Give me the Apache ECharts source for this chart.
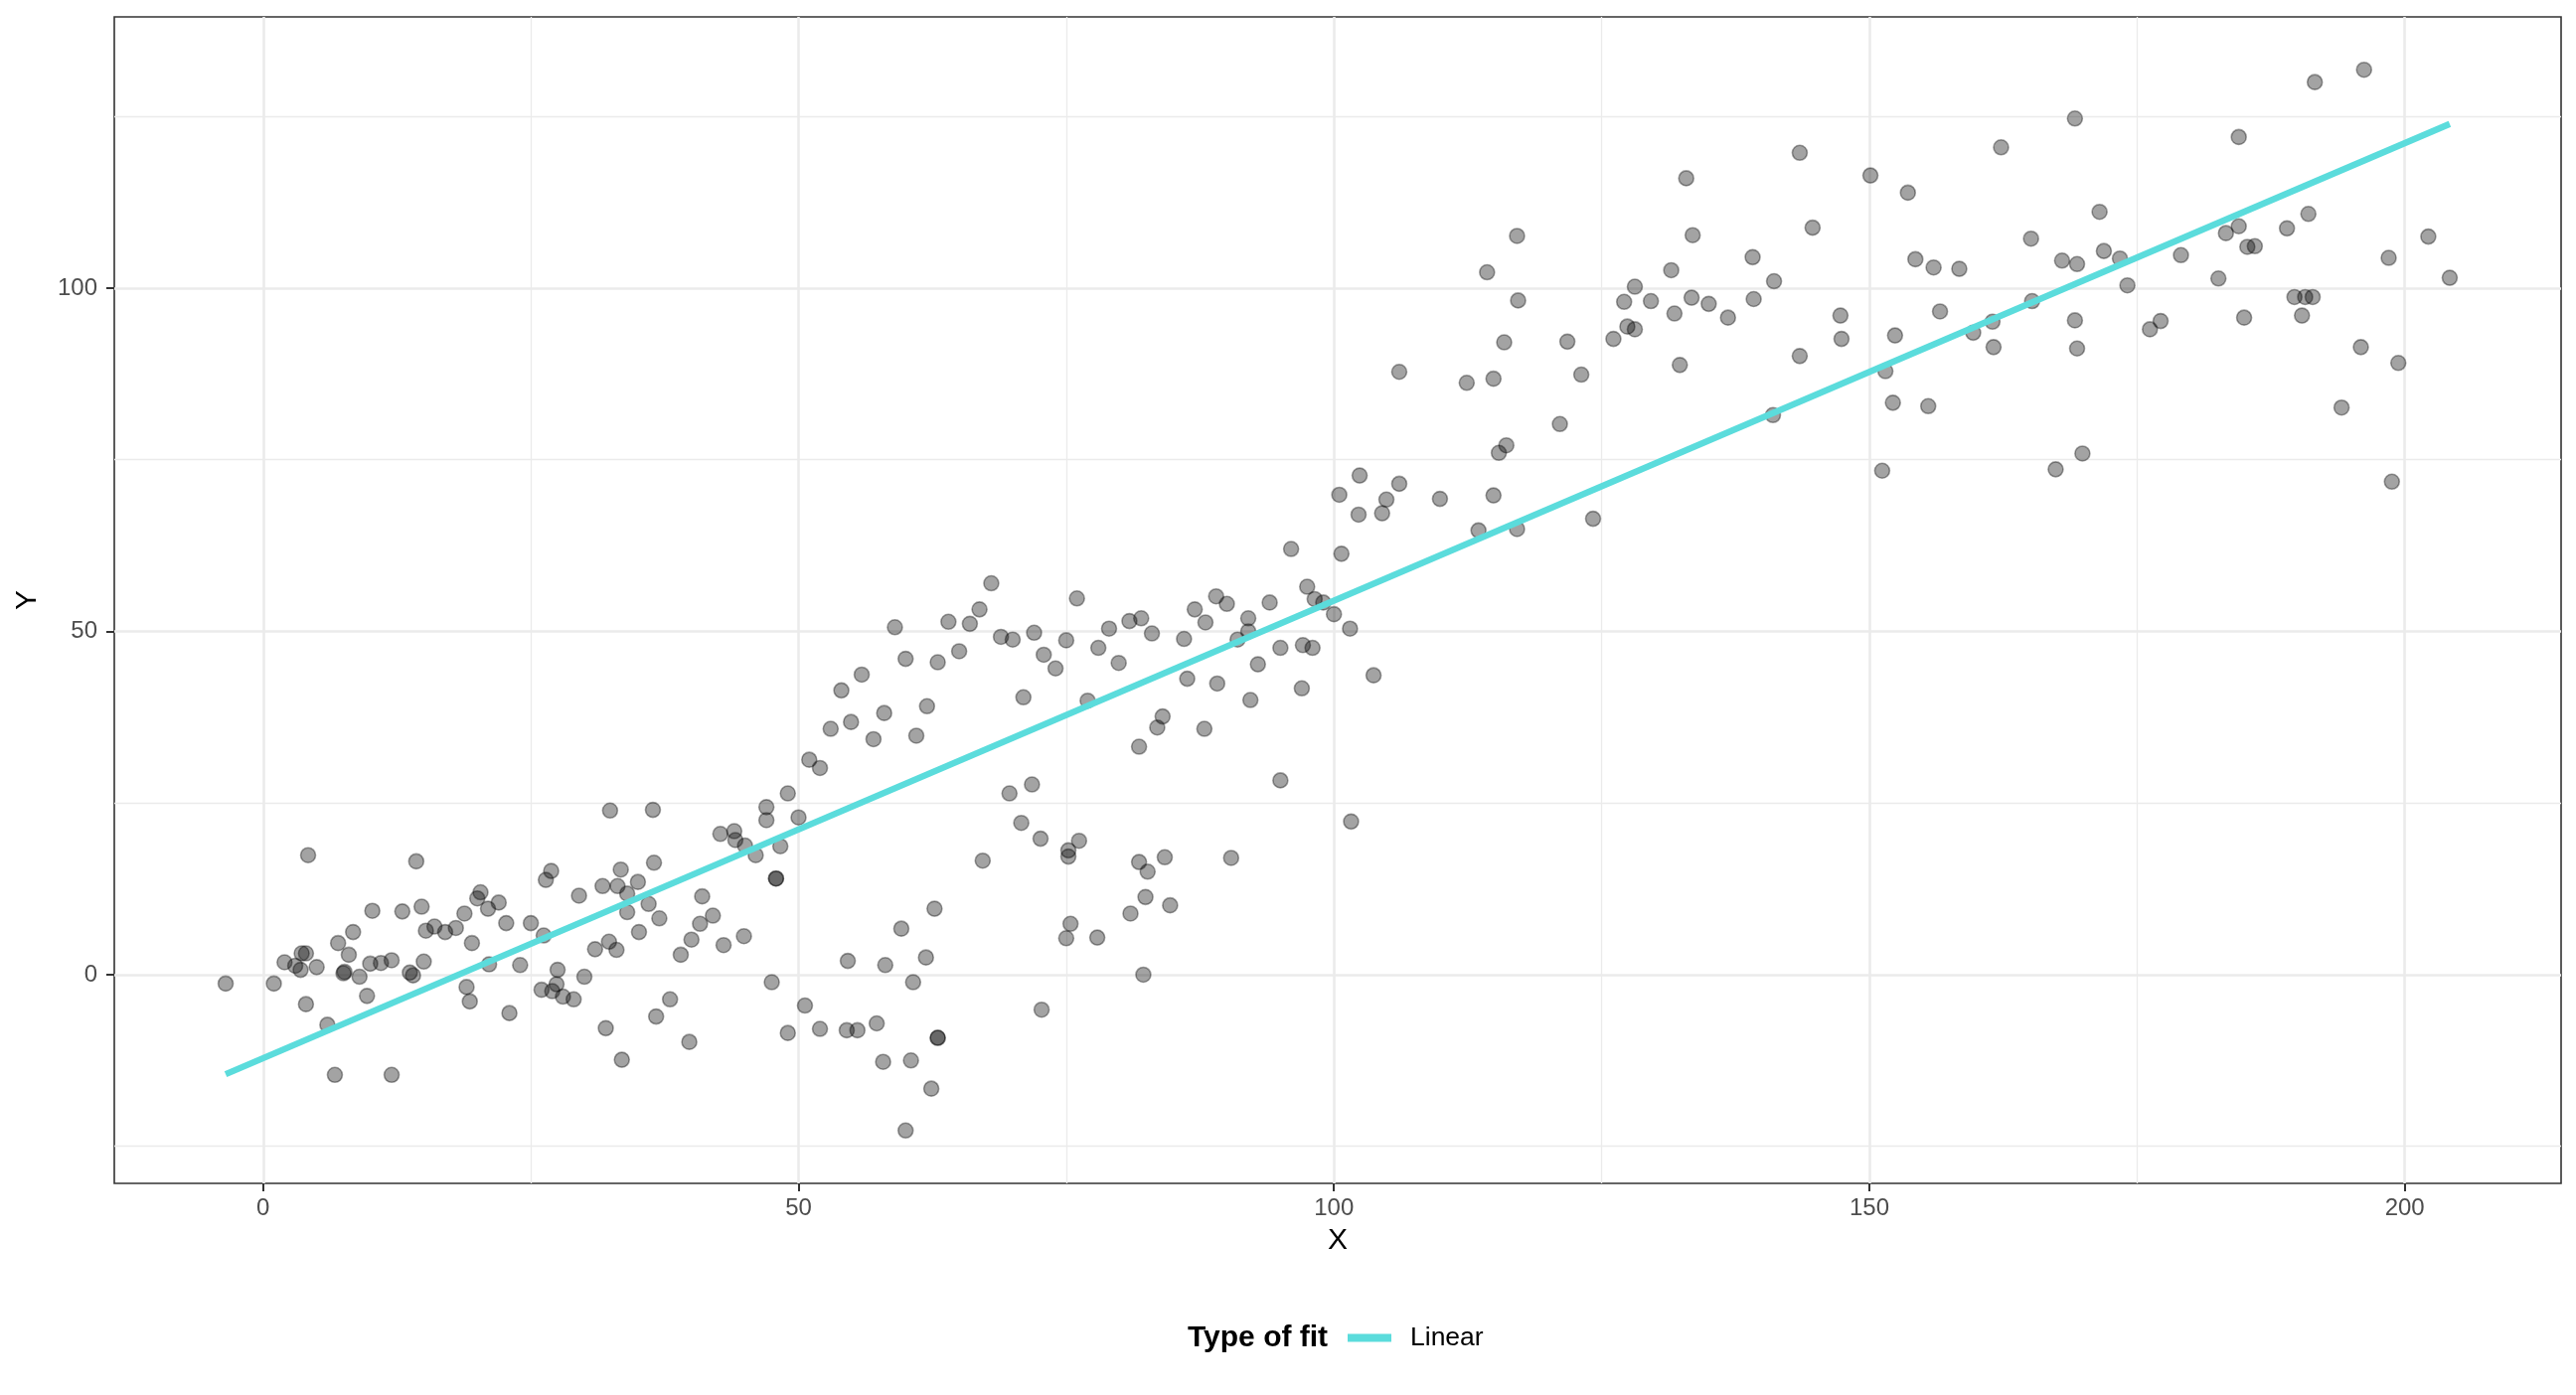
<!DOCTYPE html>
<html>
<head>
<meta charset="utf-8">
<script src="https://cdn.jsdelivr.net/npm/echarts@6/dist/echarts.min.js"></script>
<style>
  html, body { margin: 0; padding: 0; background: #fff; }
  #main { width: 2592px; height: 1404px; }
</style>
</head>
<body>

<div id="main"></div>

<script type="text/javascript">
    // scatter values
    var pointX = [
        -3.5, 1.0, 4.2, 2.0, 3.0, 3.5, 3.6, 4.0, 5.0, 4.0, 6.0, 6.7, 7.0, 8.0, 8.4, 7.5, 7.6, 9.0, 9.7, 10.2,
        10.0, 11.0, 12.0, 12.0, 13.0, 14.3, 14.8, 13.7, 14.0, 15.0, 15.2, 16.0, 17.0, 18.0, 18.8, 19.5, 19.0, 19.3, 20.0, 20.3,
        21.0, 22.0, 21.1, 22.7, 23.0, 24.0, 25.0, 26.2, 26.4, 26.9, 26.0, 27.0, 27.4, 27.5, 28.0, 29.0, 30.0, 29.5, 31.0, 31.7,
        32.4, 32.3, 33.0, 33.1, 33.4, 34.0, 34.0, 32.0, 33.5, 35.0, 35.1, 36.0, 36.4, 36.5, 37.0, 36.7, 38.0, 39.0, 39.8, 40.0,
        40.8, 41.0, 42.0, 43.0, 42.7, 44.0, 44.1, 45.0, 44.9,
        46.0, 47.0, 47.0, 49.0, 50.0, 48.3, 47.9, 47.9, 47.5, 50.6, 49.0, 51.0, 52.0, 52.0, 53.0, 54.0, 54.9, 55.9, 57.0, 58.0,
        59.0, 60.0, 61.0, 62.0, 63.0, 64.0, 65.0, 66.0, 66.9, 68.0, 68.9, 70.0, 54.6, 54.5, 55.5, 57.3, 57.9, 58.1, 59.6, 60.7,
        60.5, 60.0, 61.9, 62.7, 63.0, 63.0, 62.4, 67.2, 69.7, 70.8, 71.8, 71.0, 72.0, 72.6, 72.9, 74.0, 72.7, 75.0, 76.0, 75.2,
        75.2, 76.2, 75.4, 75.0, 77.0, 78.0, 77.9, 79.0, 79.9, 80.9, 82.0, 83.0, 81.8, 83.5, 84.0, 81.8, 82.6, 84.2, 82.4, 81.0,
        84.7, 82.2, 86.0, 87.0, 86.3, 88.0, 89.0, 90.0, 89.1, 87.9, 91.0, 92.0, 92.0, 92.9, 92.2, 90.4, 94.0, 95.0, 95.0,
        96.0, 97.0, 97.1, 98.0, 97.5, 98.2, 99.0, 100.0, 101.5, 103.7, 101.6, 100.7, 100.5, 102.4, 102.3, 104.5, 104.9, 106.1, 106.1, 109.9,
        113.5, 112.4, 114.3, 114.9, 114.9, 115.4, 116.1, 115.9, 117.1, 117.2, 117.1, 121.1, 121.8, 123.1, 124.2, 126.1, 127.1, 127.4, 128.1, 128.1,
        129.6, 131.5, 131.8, 132.3, 132.9, 133.5, 133.4, 135.0, 136.8, 139.1, 139.2, 141.1, 141.0, 143.5, 144.7, 143.5,
        147.3, 147.4, 150.1, 151.5, 152.2, 151.2, 152.4, 153.6, 154.3, 156.0, 155.5, 156.6, 158.4, 159.7, 161.5, 161.6, 162.3, 165.1, 165.2, 168.0,
        169.4, 169.2, 167.4, 169.9, 169.2, 169.4, 171.5, 171.9, 173.4, 174.1, 176.2, 177.2, 179.1, 182.6, 183.3, 184.5, 184.5, 185.0, 185.3, 186.0,
        189.0, 191.0, 189.7, 190.7, 191.4, 190.4, 191.6, 196.2, 194.1, 195.9, 198.5, 199.4, 198.8, 202.2, 204.2
    ];
    var pointY = [
        -1.3, -1.3, 17.4, 1.8, 1.3, 0.7, 3.1, 3.1, 1.1, -4.3, -7.3, -14.6, 4.6, 2.9, 6.2, 0.2, 0.4, -0.3, -3.1, 9.3,
        1.6, 1.7, 2.1, -14.6, 9.2, 16.5, 9.9, 0.3, -0.1, 1.9, 6.4, 7.0, 6.2, 6.8, 8.9, 4.6, -1.8, -3.9, 11.1, 12.0,
        9.6, 10.5, 1.5, 7.5, -5.6, 1.4, 7.5, 5.7, 13.8, 15.1, -2.2, -2.4, -1.4, 0.7, -3.2, -3.6, -0.3, 11.5, 3.7, 12.9,
        23.9, 4.8, 3.6, 12.9, 15.3, 11.8, 9.1, -7.8, -12.4, 13.5, 6.2, 10.3, 24.0, 16.3, 8.2, -6.1, -3.6, 2.9, -9.8, 5.1,
        7.4, 11.4, 8.6, 4.3, 20.5, 20.9, 19.6, 18.8, 5.6,
        17.4, 24.4, 22.5, 26.4, 22.9, 18.7, 14.0, 14.0, -1.1, -4.5, -8.5, 31.3, 30.1, -7.9, 35.8, 41.4, 36.8, 43.7, 34.3, 38.1,
        50.6, 46.0, 34.8, 39.1, 45.5, 51.4, 47.1, 51.1, 53.2, 57.0, 49.2, 48.8, 2.0, -8.1, -8.1, -7.1, -12.7, 1.4, 6.7, -1.1,
        -12.5, -22.7, 2.5, 9.6, -9.2, -9.2, -16.6, 16.6, 26.4, 22.1, 27.7, 40.4, 49.8, 19.8, 46.6, 44.6, -5.1, 48.7, 54.8, 18.1,
        17.2, 19.5, 7.4, 5.3, 39.9, 47.6, 5.4, 50.4, 45.4, 51.5, 51.9, 49.7, 33.2, 36.0, 37.6, 16.4, 15.0, 17.1, 11.3, 8.9,
        10.1, 0.0, 48.9, 53.2, 43.1, 51.3, 55.1, 54.0, 42.4, 35.8, 48.8, 51.9, 50.0, 45.2, 40.0, 17.0, 54.2, 47.6, 28.3,
        62.0, 41.7, 48.0, 47.6, 56.5, 54.7, 54.2, 52.5, 50.4, 43.6, 22.3, 61.3, 69.9, 72.7, 67.0, 67.2, 69.2, 71.5, 87.8, 69.3,
        64.7, 86.2, 102.3, 86.8, 69.8, 76.0, 77.1, 92.1, 107.6, 98.2, 64.9, 80.2, 92.2, 87.4, 66.4, 92.6, 98.0, 94.4, 94.0, 100.2,
        98.1, 102.6, 96.3, 88.8, 116.0, 107.7, 98.6, 97.7, 95.7, 104.5, 98.4, 101.0, 81.5, 119.7, 108.8, 90.1,
        96.0, 92.6, 116.4, 87.9, 83.3, 73.4, 93.1, 113.9, 104.2, 103.0, 82.8, 96.6, 102.8, 93.5, 95.1, 91.4, 120.5, 107.2, 98.1, 104.0,
        103.5, 124.7, 73.6, 75.9, 95.3, 91.2, 111.1, 105.4, 104.3, 100.4, 94.0, 95.2, 104.8, 101.4, 108.0, 109.0, 122.0, 95.7, 106.0, 106.1,
        108.7, 110.8, 98.7, 98.7, 98.7, 96.0, 130.0, 131.8, 82.6, 91.4, 104.4, 89.1, 71.8, 107.5, 101.5
    ];

    // ends of the fitted line
    var fitX = [-3.5, 204.2];
    var fitY = [-14.5, 123.9];

    // ticks and grid
    var xTicks = [0, 50, 100, 150, 200];
    var yTicks = [0, 50, 100];
    var xMinor = [25, 75, 125, 175];
    var yMinor = [-25, 25, 75, 125];
    var xRange = [-13.9, 214.6];
    var yRange = [-30.4, 139.5];

    var FONT = 'Liberation Sans, Arial, sans-serif';

    var myChart = echarts.init(document.getElementById('main'));

    var points = pointX.map(function (x, i) { return [x, pointY[i]]; });
    var fitLine = fitX.map(function (x, i) { return [x, fitY[i]]; });

    // background grid lines drawn as mark lines
    var gridLines = [];
    xTicks.forEach(function (v) { gridLines.push({ xAxis: v, lineStyle: { width: 2.6 } }); });
    yTicks.forEach(function (v) { gridLines.push({ yAxis: v, lineStyle: { width: 2.6 } }); });
    xMinor.forEach(function (v) { gridLines.push({ xAxis: v, lineStyle: { width: 1.3 } }); });
    yMinor.forEach(function (v) { gridLines.push({ yAxis: v, lineStyle: { width: 1.3 } }); });

    var option = {
        animation: false,
        backgroundColor: '#ffffff',
        textStyle: { fontFamily: FONT },
        title: {
            text: 'Type of fit',
            left: 1190,
            top: 1326,
            textStyle: { fontFamily: FONT, fontSize: 30, fontWeight: 'bold', color: '#000000', lineHeight: 32 }
        },
        legend: {
            data: ['Linear'],
            left: 1351,
            top: 1328,
            icon: 'rect',
            itemWidth: 44,
            itemHeight: 8,
            textStyle: { fontFamily: FONT, fontSize: 26.5, color: '#000000', padding: [0, 0, 0, 14] }
        },
        grid: {
            left: 115,
            right: 15,
            top: 17,
            bottom: 213,
            show: true,
            borderColor: '#333333',
            borderWidth: 1.6,
            containLabel: false,
            outerBoundsMode: 'none'
        },
        xAxis: {
            type: 'value',
            min: xRange[0],
            max: xRange[1],
            name: 'X',
            nameLocation: 'middle',
            nameGap: 43,
            nameTextStyle: { fontFamily: FONT, fontSize: 30, color: '#000000' },
            axisLine: { show: false, onZero: false },
            axisTick: { show: true, customValues: xTicks, length: 8, lineStyle: { color: '#333333', width: 2 } },
            axisLabel: { customValues: xTicks, margin: 13, fontFamily: FONT, fontSize: 24, color: '#4d4d4d' },
            splitLine: { show: false },
            minorSplitLine: { show: false }
        },
        yAxis: {
            type: 'value',
            min: yRange[0],
            max: yRange[1],
            name: 'Y',
            nameLocation: 'middle',
            nameGap: 72,
            nameTextStyle: { fontFamily: FONT, fontSize: 30, color: '#000000' },
            axisLine: { show: false, onZero: false },
            axisTick: { show: true, customValues: yTicks, length: 8, lineStyle: { color: '#333333', width: 2 } },
            axisLabel: { customValues: yTicks, margin: 17, fontFamily: FONT, fontSize: 24, color: '#4d4d4d' },
            splitLine: { show: false },
            minorSplitLine: { show: false }
        },
        series: [
            {
                name: 'points',
                type: 'scatter',
                z: 2,
                symbol: 'circle',
                symbolSize: 15,
                data: points,
                itemStyle: {
                    color: 'rgba(0,0,0,0.45)',
                    borderColor: 'rgba(0,0,0,0.45)',
                    borderWidth: 1.6
                },
                emphasis: { disabled: true },
                markLine: {
                    silent: true,
                    z: 1,
                    symbol: 'none',
                    label: { show: false },
                    emphasis: { disabled: true },
                    lineStyle: { type: 'solid', color: '#ebebeb' },
                    data: gridLines
                }
            },
            {
                name: 'Linear',
                type: 'line',
                z: 3,
                data: fitLine,
                showSymbol: false,
                symbol: 'none',
                color: '#5bdcdc',
                lineStyle: { color: '#5bdcdc', width: 6.5, cap: 'butt' },
                emphasis: { disabled: true }
            }
        ]
    };

    myChart.setOption(option);
</script>

</body>
</html>
